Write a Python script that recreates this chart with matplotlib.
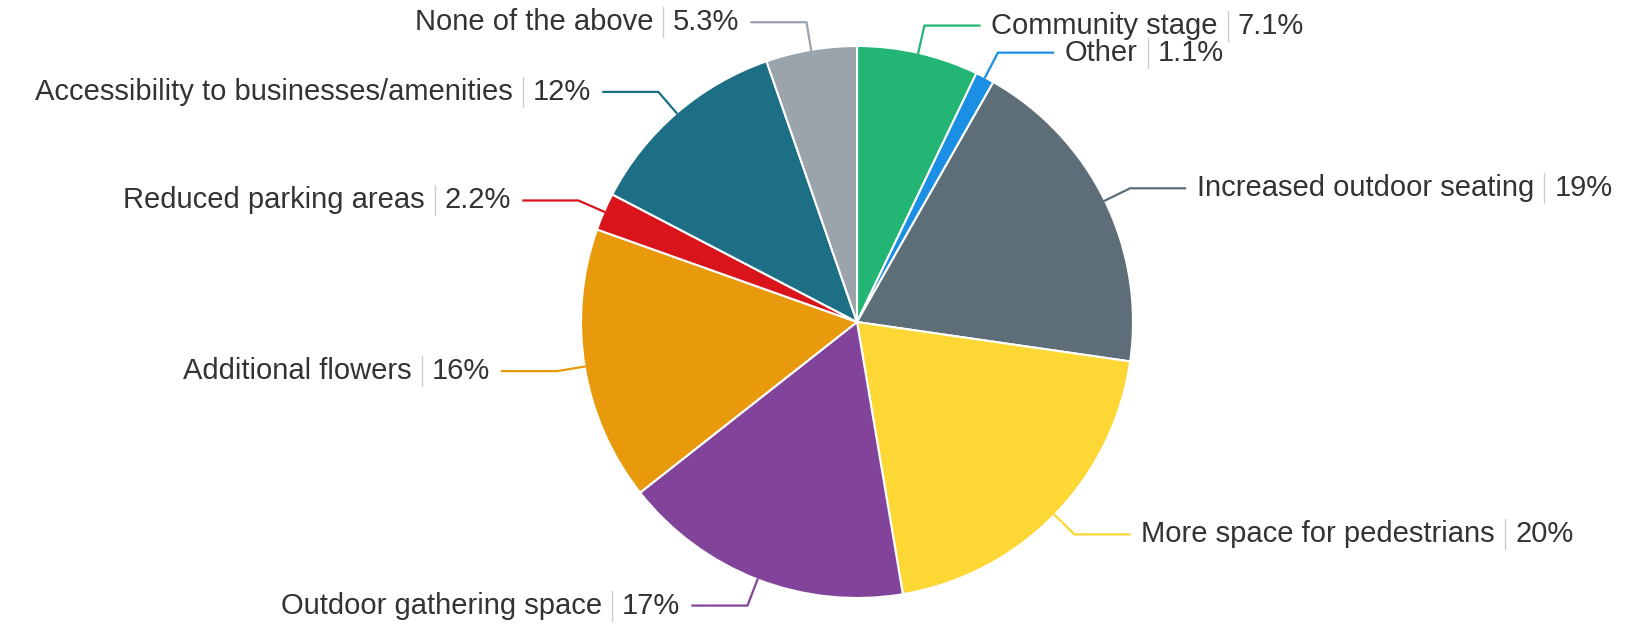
import numpy as np
import matplotlib
matplotlib.use("Agg")
import matplotlib.pyplot as plt

labels = ["Community stage", "Other", "Increased outdoor seating",
          "More space for pedestrians", "Outdoor gathering space",
          "Additional flowers", "Reduced parking areas",
          "Accessibility to businesses/amenities", "None of the above"]
values = [7.1, 1.1, 19, 20, 17, 16, 2.2, 12, 5.3]
value_text = ["7.1%", "1.1%", "19%", "20%", "17%", "16%", "2.2%", "12%", "5.3%"]
colors = ["#22b573", "#1a8fe3", "#5e6e78", "#fdd835", "#82449a",
          "#e99a0c", "#d9141b", "#1d6f86", "#9ba3ab"]

W, H = 1635, 625
fig = plt.figure(figsize=(W / 100, H / 100), dpi=100)
ax = fig.add_axes([0, 0, 1, 1])

cx, cy, R = 857, H - 322, 276
wedges, _ = ax.pie(values, colors=colors, startangle=90, counterclock=False,
                   center=(cx, cy), radius=R,
                   wedgeprops=dict(edgecolor="white", linewidth=1.5))
ax.set_xlim(0, W)
ax.set_ylim(0, H)
ax.set_aspect("equal")
ax.axis("off")

renderer = fig.canvas.get_renderer()
font = dict(family="Liberation Sans", size=21, color="#333333")
sep_color = "#cccccc"

def width_of(t):
    bb = t.get_window_extent(renderer=renderer)
    return bb.width

for w, name, val, col in zip(wedges, labels, value_text, colors):
    ang = np.deg2rad((w.theta1 + w.theta2) / 2)
    ex, ey = cx + R * np.cos(ang), cy + R * np.sin(ang)
    bx, by = cx + (R + 28) * np.cos(ang), cy + (R + 28) * np.sin(ang)
    side = 1 if np.cos(ang) >= 0 else -1
    hx = bx + side * 55
    ax.plot([ex, bx, hx], [ey, by, by], color=col, lw=1.6,
            solid_joinstyle="miter")
    tx = bx + side * 67
    if side > 0:
        t1 = ax.text(tx, by, name, ha="left", va="center", **font)
        x = tx + width_of(t1) + 10
        ax.plot([x, x], [by - 15, by + 15], color=sep_color, lw=1)
        ax.text(x + 10, by, val, ha="left", va="center", **font)
    else:
        t2 = ax.text(tx, by, val, ha="right", va="center", **font)
        x = tx - width_of(t2) - 10
        ax.plot([x, x], [by - 15, by + 15], color=sep_color, lw=1)
        ax.text(x - 10, by, name, ha="right", va="center", **font)

fig.savefig("out.png", dpi=100, facecolor="white")
